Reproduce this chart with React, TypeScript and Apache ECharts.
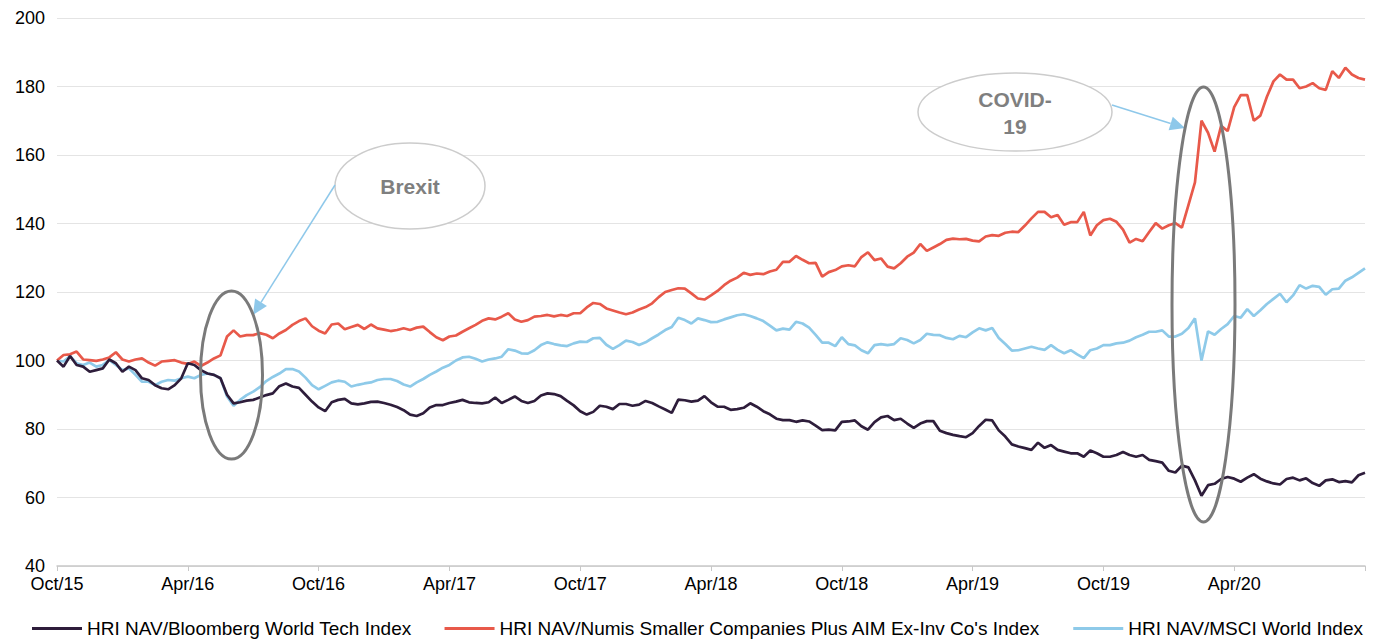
import React, { useEffect, useRef } from "react";
import * as echarts from "echarts";

// tick labels every 6 months (20 points per half-year)
const tickLabels = ["Oct/15", "Apr/16", "Oct/16", "Apr/17", "Oct/17", "Apr/18", "Oct/18", "Apr/19", "Oct/19", "Apr/20", ""];

const techSeries = [
  100, 98.2, 101.3, 98.7, 98.2, 96.7, 97.2, 97.7, 100.3, 99.2,
  96.7, 98.2, 97.2, 94.8, 94.3, 92.8, 91.9, 91.6, 92.8, 94.8,
  99.2, 98.7, 97.2, 96.2, 95.8, 94.8, 90, 87.5, 87.8, 88.3,
  88.5, 89.2, 89.9, 90.4, 92.5, 93.3, 92.4, 92, 90, 88,
  86.3, 85.2, 87.8, 88.5, 88.8, 87.5, 87.2, 87.5, 87.9, 88,
  87.6, 87.1, 86.4, 85.5, 84.2, 83.8, 84.6, 86.3, 87, 87,
  87.6, 88, 88.5, 87.8, 87.6, 87.5, 87.8, 89.2, 87.6, 88.5,
  89.5, 88.2, 87.6, 88.2, 89.8, 90.4, 90.2, 89.6, 88.2, 86.9,
  85.2, 84.2, 85, 86.8, 86.5, 85.8, 87.3, 87.3, 86.8, 87.1,
  88.2, 87.6, 86.6, 85.7, 84.7, 88.6, 88.4, 88, 88.3, 89.6,
  87.8, 86.5, 86.5, 85.6, 85.8, 86.2, 87.5, 86.5, 85.2, 84.3,
  83, 82.6, 82.6, 82.1, 82.5, 82.2, 81, 79.7, 79.8, 79.6,
  82.1, 82.2, 82.5, 80.8, 79.8, 82, 83.4, 83.8, 82.6, 83,
  81.6, 80.3, 81.6, 82.3, 82.3, 79.5, 78.8, 78.3, 77.9, 77.6,
  78.8, 80.9, 82.7, 82.5, 79.6, 77.8, 75.5, 74.9, 74.4, 73.9,
  76, 74.5, 75.3, 73.9, 73.4, 72.9, 72.9, 71.9, 73.7, 72.9,
  71.9, 71.9, 72.4, 73.3, 72.4, 71.9, 72.4, 71, 70.6, 70.2,
  67.8, 67.3, 69.3, 68.8, 65, 60.5, 63.6, 64, 65.4, 66,
  65.5, 64.6, 65.8, 66.8, 65.5, 64.7, 64.1, 63.8, 65.4, 65.8,
  65, 65.6, 64.2, 63.4, 65, 65.3, 64.5, 64.8, 64.4, 66.5,
  67.2,
];

const numisSeries = [
  100, 101.6, 101.8, 102.6, 100.3, 100.1, 99.9, 100.3, 100.9, 102.4,
  100.3, 99.7, 100.3, 100.6, 99.4, 98.5, 99.7, 99.9, 100.1, 99.4,
  99, 99.7, 98.4, 99.4, 100.6, 101.5, 107, 108.8, 107, 107.4,
  107.4, 108, 107.5, 106.5, 107.9, 108.9, 110.4, 111.5, 112.3, 110,
  108.7, 107.9, 110.5, 110.8, 109.1, 109.8, 110.4, 109.2, 110.5, 109.4,
  109, 108.6, 108.9, 109.4, 108.9, 109.6, 109.9, 108.3, 106.8, 105.9,
  107, 107.3, 108.4, 109.4, 110.4, 111.6, 112.3, 112, 112.8, 113.8,
  112, 111.3, 111.8, 112.8, 113, 113.3, 112.9, 113.3, 113, 113.8,
  113.8, 115.5, 116.8, 116.5, 115.2, 114.6, 114, 113.5, 114, 114.9,
  115.6, 116.7, 118.5, 120, 120.6, 121.1, 121, 119.6, 118.1, 117.8,
  119, 120.3, 122, 123.3, 124.2, 125.6, 125, 125.4, 125.2, 126,
  126.5, 128.8, 128.8, 130.5, 129.4, 128.4, 128.5, 124.5, 125.8, 126.4,
  127.5, 127.8, 127.5, 130.2, 131.6, 129.3, 129.8, 127.4, 126.9, 128.4,
  130.3, 131.5, 134, 132, 133, 134, 135.2, 135.6, 135.4, 135.5,
  135, 134.8, 136.2, 136.6, 136.4, 137.3, 137.6, 137.5, 139.4, 141.5,
  143.4, 143.4, 141.8, 142.5, 139.6, 140.4, 140.4, 143.4, 136.5, 139.5,
  141, 141.4, 140.5, 138.2, 134.4, 135.5, 134.8, 137.5, 140.1, 138.5,
  139.5, 140.1, 138.8, 145.4, 152, 170, 166.5, 161, 168.5, 167,
  174, 177.5, 177.5, 170, 171.5, 177, 181.5, 183.5, 182, 182,
  179.5, 180, 181, 179.5, 179, 184.5, 182.5, 185.5, 183.5, 182.5,
  182,
];

const msciSeries = [
  100, 99.7, 101.3, 99.2, 98.7, 99.4, 98.2, 98.7, 100.1, 98.7,
  97.2, 97.7, 95.8, 93.8, 93.8, 92.8, 93.8, 94.3, 94.1, 94.8,
  95.3, 94.8, 95.8, 96.2, 95.8, 94.8, 89.5, 86.8, 88.5, 89.9,
  90.9, 92.2, 94, 95.2, 96.2, 97.5, 97.5, 96.8, 95, 92.8,
  91.6, 92.6, 93.6, 94.1, 93.8, 92.4, 92.9, 93.3, 93.6, 94.3,
  94.6, 94.6, 94, 93, 92.4, 93.6, 94.6, 95.8, 96.8, 97.9,
  98.7, 100, 100.9, 101.1, 100.5, 99.7, 100.3, 100.6, 101.1, 103.3,
  102.9, 102.1, 102, 103, 104.5, 105.3, 104.8, 104.4, 104.2, 105,
  105.5, 105.4, 106.5, 106.6, 104.6, 103.4, 104.5, 105.8, 105.4, 104.5,
  105.3, 106.5, 107.6, 108.9, 109.8, 112.5, 111.8, 110.8, 112.3, 111.8,
  111.2, 111.3, 112, 112.6, 113.2, 113.5, 113, 112.3, 111.5, 110.2,
  108.8, 109.3, 109, 111.3, 110.8, 109.6, 107.5, 105.2, 105.2, 104.2,
  106.8, 104.8, 104.4, 103, 102.1, 104.5, 104.8, 104.5, 104.8, 106.5,
  106, 105, 106, 107.8, 107.5, 107.4, 106.6, 106.2, 107.2, 106.8,
  108.2, 109.4, 108.8, 109.5, 106.6, 104.8, 102.9, 103, 103.5, 104,
  103.5, 103.1, 104.5, 103.1, 102.1, 103, 101.8, 100.7, 103, 103.5,
  104.5, 104.5, 105, 105.2, 105.8, 106.8, 107.5, 108.4, 108.4, 108.8,
  107, 107, 107.8, 109.5, 112.3, 100, 108.5, 107.5, 109.2, 110.6,
  113, 112.5, 115, 113, 114.7, 116.5, 118, 119.5, 117, 119,
  122, 121, 121.8, 121.5, 119.2, 120.8, 121, 123.3, 124.3, 125.6,
  126.9,
];

const seriesNames = [
  "HRI NAV/Bloomberg World Tech Index",
  "HRI NAV/Numis Smaller Companies Plus AIM Ex-Inv Co's Index",
  "HRI NAV/MSCI World Index",
];
const seriesColors = ["#2e1d3b", "#e8594a", "#8ecae9"];

const POINTS_PER_TICK = 20;
const categories = techSeries.map((_, i) =>
  i % POINTS_PER_TICK === 0 ? tickLabels[i / POINTS_PER_TICK] || "" : ""
);

function arrow(x1: number, y1: number, x2: number, y2: number, color: string) {
  const dx = x2 - x1;
  const dy = y2 - y1;
  const len = Math.sqrt(dx * dx + dy * dy);
  const ux = dx / len;
  const uy = dy / len;
  const hl = 15;
  const hw = 7;
  const bx = x2 - ux * hl;
  const by = y2 - uy * hl;
  const px = -uy * hw;
  const py = ux * hw;
  return [
    { type: "line", z: 100, shape: { x1, y1, x2: bx, y2: by }, style: { stroke: color, lineWidth: 1.5 } },
    {
      type: "polygon",
      z: 100,
      shape: { points: [[x2, y2], [bx + px, by + py], [bx - px, by - py]] },
      style: { fill: color },
    },
  ];
}

export default function App() {
  const ref = useRef<HTMLDivElement>(null);
  useEffect(() => {
    if (!ref.current) return;
    const chart = echarts.init(ref.current, undefined, { renderer: "svg" });
    const font = "Arial, 'Liberation Sans', Helvetica, sans-serif";
    const arrowColor = "#8ec8ea";
    chart.setOption({
      animation: false,
      backgroundColor: "#ffffff",
      textStyle: { fontFamily: font },
      grid: { left: 57, right: 15, top: 18, bottom: 78, containLabel: false },
      legend: {
        data: seriesNames,
        left: 32,
        top: 619,
        icon: "rect",
        itemWidth: 50,
        itemHeight: 3,
        itemGap: 33,
        padding: 0,
        textStyle: { fontSize: 19, color: "#000", fontFamily: font },
      },
      xAxis: {
        type: "category",
        data: categories,
        boundaryGap: false,
        axisLine: { lineStyle: { color: "#c8c8c8", width: 1.5 } },
        axisTick: {
          show: true,
          interval: POINTS_PER_TICK - 1,
          length: 5,
          lineStyle: { color: "#c8c8c8" },
        },
        axisLabel: {
          interval: POINTS_PER_TICK - 1,
          fontSize: 18,
          lineHeight: 14,
          color: "#000",
          margin: 11,
          fontFamily: font,
        },
        splitLine: { show: false },
      },
      yAxis: {
        type: "value",
        min: 40,
        max: 200,
        interval: 20,
        axisLine: { show: false },
        axisTick: { show: false },
        axisLabel: { fontSize: 18, lineHeight: 14, color: "#000", margin: 12, fontFamily: font },
        splitLine: { lineStyle: { color: "#e4e4e4", width: 1 } },
      },
      series: [techSeries, numisSeries, msciSeries].map((d, k) => ({
        name: seriesNames[k],
        type: "line",
        data: d,
        showSymbol: false,
        symbol: "none",
        lineStyle: { color: seriesColors[k], width: 2.7 },
        itemStyle: { color: seriesColors[k] },
        z: k === 0 ? 4 : k === 1 ? 3 : 2,
      })),
      graphic: [
        // Brexit callout
        {
          type: "ellipse",
          z: 100,
          shape: { cx: 410, cy: 186, rx: 75, ry: 43 },
          style: { fill: "#ffffff", stroke: "#cccccc", lineWidth: 1.5 },
        },
        {
          type: "text",
          z: 101,
          x: 410,
          y: 186,
          style: {
            text: "Brexit",
            fill: "#7f7f7f",
            fontSize: 21,
            fontWeight: "bold",
            fontFamily: font,
            align: "center",
            verticalAlign: "middle",
          },
        },
        ...arrow(335, 185, 253, 315, arrowColor),
        {
          type: "ellipse",
          z: 100,
          shape: { cx: 231.5, cy: 375, rx: 31, ry: 84 },
          style: { fill: "none", stroke: "#7a7a7a", lineWidth: 3 },
        },
        // COVID-19 callout
        {
          type: "ellipse",
          z: 100,
          shape: { cx: 1015, cy: 112, rx: 97, ry: 39 },
          style: { fill: "#ffffff", stroke: "#cccccc", lineWidth: 1.5 },
        },
        {
          type: "text",
          z: 101,
          x: 1015,
          y: 113,
          style: {
            text: "COVID-\n19",
            fill: "#7f7f7f",
            fontSize: 21,
            fontWeight: "bold",
            lineHeight: 27,
            fontFamily: font,
            align: "center",
            verticalAlign: "middle",
          },
        },
        ...arrow(1112, 105, 1185, 128, arrowColor),
        {
          type: "ellipse",
          z: 100,
          shape: { cx: 1203.5, cy: 304.5, rx: 31.5, ry: 217.5 },
          style: { fill: "none", stroke: "#7a7a7a", lineWidth: 3 },
        },
      ],
    });
    return () => chart.dispose();
  }, []);
  return (
    <div
      ref={ref}
      style={{ position: "absolute", left: 0, top: 0, width: 1380, height: 644, background: "#fff" }}
    />
  );
}
